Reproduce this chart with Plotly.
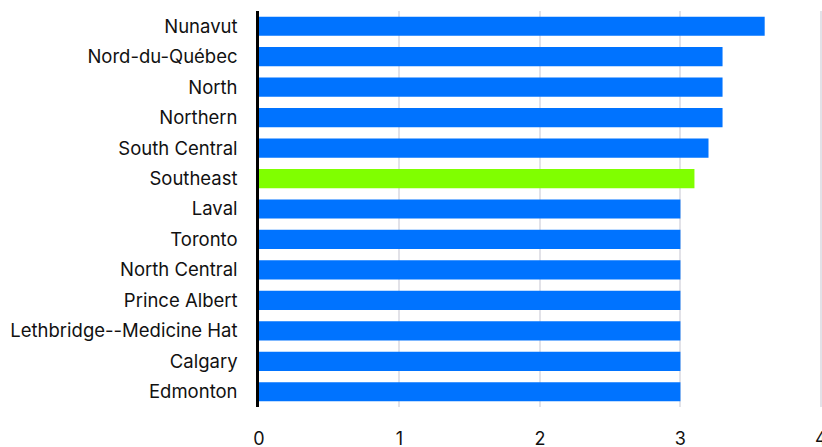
import plotly.graph_objects as go

regions = ["Nunavut", "Nord-du-Québec", "North", "Northern", "South Central", "Southeast",
           "Laval", "Toronto", "North Central", "Prince Albert",
           "Lethbridge--Medicine Hat", "Calgary", "Edmonton"]
values = [3.6, 3.3, 3.3, 3.3, 3.2, 3.1, 3.0, 3.0, 3.0, 3.0, 3.0, 3.0, 3.0]
x_ticks = [0, 1, 2, 3, 4]
highlight = "Southeast"
colors = ["#80FF00" if r == highlight else "#0073FF" for r in regions]

fig = go.Figure(go.Bar(
    y=regions, x=values, orientation="h",
    marker=dict(color=colors, line=dict(width=0)),
))

fig.update_layout(
    width=822, height=447,
    margin=dict(l=259, r=0, t=11, b=40),
    plot_bgcolor="white", paper_bgcolor="white",
    bargap=0.37,
    showlegend=False,
    font=dict(family="Inter", size=18.5, color="#111111"),
)
fig.update_xaxes(
    range=[0, 4.008], tickvals=x_ticks,
    showgrid=True, gridcolor="#e2e2e8", gridwidth=2,
    zeroline=False, showline=False, automargin=False,
    ticks="outside", ticklen=15, tickcolor="rgba(0,0,0,0)",
    tickfont=dict(size=18), ticklabeloverflow="allow",
)
fig.update_yaxes(
    categoryorder="array", categoryarray=regions[::-1],
    showline=True, linecolor="black", linewidth=2.5,
    showgrid=False, automargin=False,
    ticks="outside", ticklen=15, tickcolor="rgba(0,0,0,0)",
)

# remove the browser's default 8px body margin so the figure fills the window
fig.write_html(
    "out.html",
    config={"displayModeBar": False},
    post_script="document.body.style.margin='0';document.body.style.overflow='hidden';",
)
